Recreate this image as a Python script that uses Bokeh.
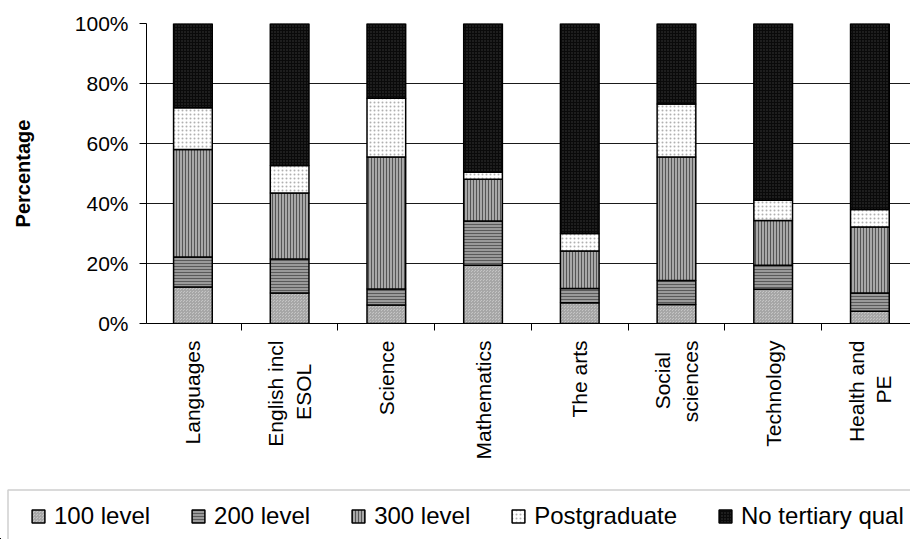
import math
from bokeh.plotting import figure
from bokeh.layouts import column
from bokeh.models import (Range1d, FixedTicker, Legend, LegendItem, ColumnDataSource,
                          BoxAnnotation)
from bokeh.embed import file_html
from bokeh.resources import INLINE

# ---- data ----
subjects = ["Languages", "English incl\nESOL", "Science", "Mathematics",
            "The arts", "Social\nsciences", "Technology", "Health and\nPE"]
level_100 = [12.2, 10.2, 6.2, 19.4, 6.9, 6.3, 11.4, 4.1]
level_200 = [10.0, 11.3, 5.3, 14.8, 4.8, 8.0, 8.0, 6.1]
level_300 = [35.8, 22.0, 44.0, 13.9, 12.5, 41.2, 14.9, 22.0]
postgraduate = [13.9, 9.2, 19.6, 2.3, 5.8, 17.7, 6.8, 5.8]
no_tertiary = [28.1, 47.3, 24.9, 49.6, 70.0, 26.8, 58.9, 62.0]
series_names = ["100 level", "200 level", "300 level", "Postgraduate", "No tertiary qual"]
y_ticks = [0, 20, 40, 60, 80, 100]
y_tick_labels = ["0%", "20%", "40%", "60%", "80%", "100%"]

FONT = "Liberation Sans"
NBSP = "\u00a0"

# pad the shorter line of a two-line label so both lines are centred
label_pad = {"ESOL": 4, "Social": 2, "PE": 6}


def centred(label):
    lines = label.split("\n")
    if len(lines) == 1:
        return label
    return "\n".join(l + NBSP * label_pad.get(l, 0) for l in lines)


xs = list(range(len(subjects)))
keys = ["l100", "l200", "l300", "pg", "none"]
source = ColumnDataSource(dict(x=xs, l100=level_100, l200=level_200, l300=level_300,
                               pg=postgraduate, none=no_tertiary))

bar_style = dict(
    fill_color=["#c4c4c4", "#9a9a9a", "#a8a8a8", "#ffffff", "#0a0a0a"],
    hatch_pattern=["criss_cross", "horizontal_line", "vertical_line", "dot", "dot"],
    hatch_color=["#a6a6a6", "#5a5a5a", "#555555", "#b0b0b0", "#3a3a3a"],
    hatch_scale=[3, 3, 3, 4, 3],
    hatch_weight=[1, 1, 1, 1, 1],
    line_color="black", line_width=1.5)

p = figure(width=910, height=481,
           x_range=Range1d(-0.48, 7.42), y_range=Range1d(0, 100),
           output_backend="svg", toolbar_location=None,
           min_border_left=146, min_border_right=0, min_border_top=23,
           min_border_bottom=158)
p.outline_line_color = None
p.background_fill_color = "white"
p.border_fill_color = "white"

p.vbar_stack(keys, x="x", width=0.4, source=source, **bar_style)

# grid
p.xgrid.visible = False
p.ygrid.ticker = FixedTicker(ticks=y_ticks)
p.ygrid.grid_line_color = "#1a1a1a"
p.ygrid.grid_line_width = 1

# y axis
p.yaxis.ticker = FixedTicker(ticks=y_ticks)
p.yaxis.major_label_overrides = {t: l for t, l in zip(y_ticks, y_tick_labels)}
p.yaxis.major_tick_out = 7
p.yaxis.major_tick_in = 0
p.yaxis.minor_tick_line_color = None
p.yaxis.major_label_standoff = 11
p.yaxis.major_label_text_font = FONT
p.yaxis.major_label_text_font_size = "21px"
p.yaxis.major_label_text_color = "black"
p.yaxis.axis_line_color = "black"
p.yaxis.major_tick_line_color = "black"
p.yaxis.axis_label = "Percentage"
p.yaxis.axis_label_text_font = FONT
p.yaxis.axis_label_text_font_style = "bold"
p.yaxis.axis_label_text_font_size = "20px"
p.yaxis.axis_label_text_color = "black"
p.yaxis.axis_label_standoff = 38

# x axis
boundaries = [i + 0.5 for i in xs[:-1]]
p.xaxis.ticker = FixedTicker(ticks=xs, minor_ticks=boundaries)
p.xaxis.major_label_overrides = {i: centred(s) for i, s in zip(xs, subjects)}
p.xaxis.major_label_orientation = math.pi / 2
p.xaxis.major_tick_out = 0
p.xaxis.major_tick_in = 0
p.xaxis.minor_tick_out = 7
p.xaxis.minor_tick_in = 0
p.xaxis.minor_tick_line_color = "black"
p.xaxis.major_label_standoff = 10
p.xaxis.major_label_text_font = FONT
p.xaxis.major_label_text_font_size = "21px"
p.xaxis.major_label_text_color = "black"
p.xaxis.axis_line_color = "black"

# ---- legend strip (its own small figure; its bars lie far outside its view) ----
lg = figure(width=910, height=58, x_range=Range1d(1000, 1100), y_range=Range1d(1000, 1100),
            output_backend="svg", toolbar_location=None,
            x_axis_type=None, y_axis_type=None,
            min_border_left=0, min_border_right=0, min_border_top=0, min_border_bottom=0)
lg.outline_line_color = None
lg.grid.visible = False
lg.background_fill_color = "white"
lg.border_fill_color = "white"
for fig in (p, lg):
    if "frame_align" in fig.properties():
        fig.frame_align = False
legend_renderers = lg.vbar_stack(keys, x="x", width=0.4, source=source, **bar_style)

# legend frame: open to the right and bottom, as in the cropped original
lg.add_layout(BoxAnnotation(left=7.5, top=8.5, right=1200, bottom=200,
                            left_units="canvas", right_units="canvas",
                            top_units="canvas", bottom_units="canvas",
                            fill_alpha=0, line_color="#606060", line_width=1.5,
                            level="underlay"))

legend = Legend(
    items=[LegendItem(label=n, renderers=[r]) for n, r in zip(series_names, legend_renderers)],
    orientation="horizontal", location=(30, 9), margin=0, padding=0,
    glyph_width=16, glyph_height=16, label_standoff=8, spacing=40,
    label_text_font=FONT, label_text_font_size="24px", label_text_color="black",
    border_line_color=None, background_fill_alpha=0)
lg.add_layout(legend)

layout = column(p, lg, spacing=0)
open("out.html", "w").write(file_html(layout, INLINE))
